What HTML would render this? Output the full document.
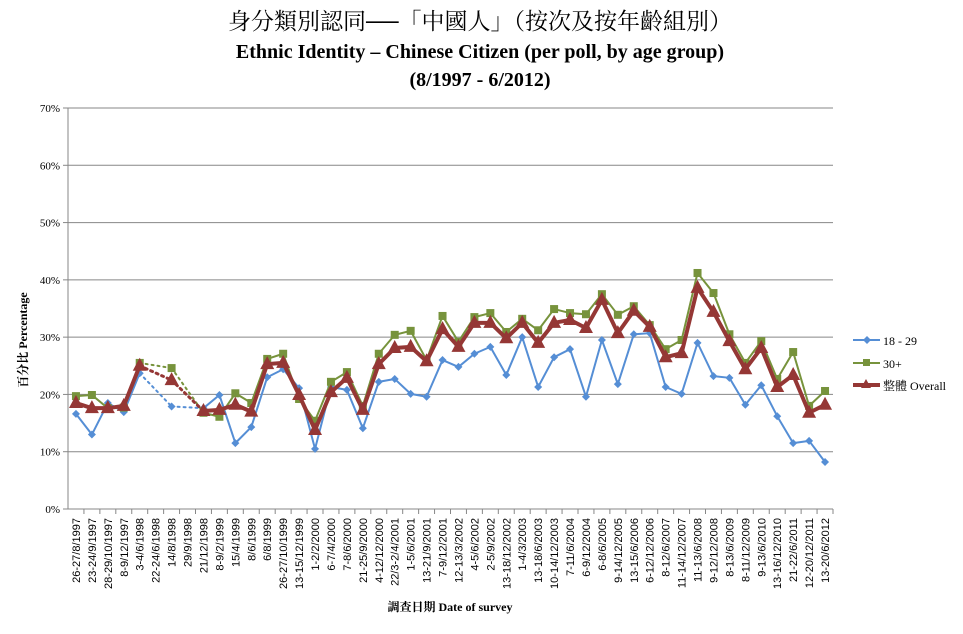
<!DOCTYPE html>
<html><head><meta charset="utf-8"><style>
body{margin:0;background:#fff;width:963px;height:629px;overflow:hidden}
svg text{font-family:"Liberation Serif","Noto Serif CJK SC",serif}
svg text.sans{font-family:"Liberation Sans","Noto Sans CJK SC",sans-serif}
</style></head><body>
<svg id="chart" width="963" height="629" xmlns="http://www.w3.org/2000/svg">
<text x="480" y="29" text-anchor="middle" font-size="23">身分類別認同──「中國人」（按次及按年齡組別）</text>
<text x="480" y="58" text-anchor="middle" font-size="20" font-weight="bold">Ethnic Identity – Chinese Citizen (per poll, by age group)</text>
<text x="480" y="86" text-anchor="middle" font-size="20" font-weight="bold">(8/1997 - 6/2012)</text>
<g id="grid"></g><g id="yticks"></g><g id="xticks"></g><g id="series"></g>
<text transform="translate(27,340) rotate(-90)" text-anchor="middle" font-size="12" font-weight="bold">百分比 Percentage</text>
<text x="450" y="611" text-anchor="middle" font-size="12" font-weight="bold">調查日期 Date of survey</text>
<g>
<g><line x1="853" y1="340" x2="880" y2="340" stroke="#558ed5" stroke-width="2"/><path d="M867 336 L871 340 L867 344 L863 340Z" fill="#558ed5"/><text x="883" y="345" font-size="12">18 - 29</text></g>
<g><line x1="853" y1="363" x2="880" y2="363" stroke="#77933c" stroke-width="2"/><rect x="863" y="359" width="7" height="7" fill="#77933c"/><text x="883" y="368" font-size="12">30+</text></g>
<g><line x1="853" y1="385" x2="880" y2="385" stroke="#953735" stroke-width="4"/><path d="M866 379 L871 388 L861 388Z" fill="#953735"/><text x="883" y="390" font-size="12">整體 Overall</text></g>
</g>
</svg>
<script>
const categories=["26-27/8/1997","23-24/9/1997","28-29/10/1997","8-9/12/1997","3-4/6/1998","22-24/6/1998","14/8/1998","29/9/1998","21/12/1998","8-9/2/1999","15/4/1999","8/6/1999","6/8/1999","26-27/10/1999","13-15/12/1999","1-2/2/2000","6-7/4/2000","7-8/6/2000","21-25/9/2000","4-12/12/2000","22/3-2/4/2001","1-5/6/2001","13-21/9/2001","7-9/12/2001","12-13/3/2002","4-5/6/2002","2-5/9/2002","13-18/12/2002","1-4/3/2003","13-18/6/2003","10-14/12/2003","7-11/6/2004","6-9/12/2004","6-8/6/2005","9-14/12/2005","13-15/6/2006","6-12/12/2006","8-12/6/2007","11-14/12/2007","11-13/6/2008","9-12/12/2008","8-13/6/2009","8-11/12/2009","9-13/6/2010","13-16/12/2010","21-22/6/2011","12-20/12/2011","13-20/6/2012"];
const age1829=[16.6,13.0,18.5,16.9,23.7,null,17.9,null,17.6,19.9,11.5,14.3,23.0,24.4,21.1,10.5,21.3,20.8,14.1,22.2,22.7,20.1,19.6,26.0,24.8,27.1,28.3,23.4,30.0,21.3,26.5,27.9,19.6,29.5,21.8,30.5,30.7,21.3,20.1,29.0,23.2,22.9,18.2,21.6,16.2,11.5,11.9,8.2];
const age30plus=[19.7,19.9,17.6,17.7,25.5,null,24.6,null,16.8,16.1,20.2,18.5,26.2,27.1,19.2,15.4,22.2,23.9,18.0,27.1,30.4,31.1,26.0,33.7,29.2,33.5,34.2,30.9,33.2,31.2,34.9,34.2,34.0,37.5,33.9,35.4,32.1,27.9,29.5,41.2,37.7,30.5,25.5,29.3,22.7,27.4,18.0,20.6];
const overall=[18.5,17.6,17.6,18.0,25.0,null,22.5,null,17.1,17.3,18.2,17.0,25.3,25.5,19.9,13.8,20.4,22.9,17.3,25.3,28.1,28.3,25.8,31.4,28.3,32.5,32.5,29.8,32.5,29.0,32.5,33.0,31.6,36.5,30.7,34.6,31.8,26.5,27.2,38.6,34.4,29.3,24.4,28.1,21.3,23.4,16.8,18.2];
const yTicks=[0,10,20,30,40,50,60,70];
const NS="http://www.w3.org/2000/svg";
const X0=68,X1=833,Y0=509,Y1=108;
const step=(X1-X0)/categories.length;
const xs=i=>X0+step*(i+0.5);
const ys=v=>Y0-(v/70)*(Y0-Y1);
function mk(t,a,p){const e=document.createElementNS(NS,t);for(const k in a)e.setAttribute(k,a[k]);p.appendChild(e);return e;}
const grid=document.getElementById('grid'),yt=document.getElementById('yticks'),xt=document.getElementById('xticks'),sg=document.getElementById('series');
yTicks.forEach(t=>{const y=ys(t);
 const l=mk('line',{x1:X0,x2:X1,y1:y,y2:y,stroke:'#878787','stroke-width':1},grid);
 
 
 mk('line',{x1:X0-5,x2:X0,y1:y,y2:y,stroke:'#878787'},grid);
 const tx=mk('text',{x:X0-8,y:y+4,'text-anchor':'end','font-size':11},yt);tx.textContent=t+'%';
 
 
});
const ax=mk('line',{x1:X0,x2:X0,y1:Y1,y2:Y0,stroke:'#878787'},grid);


categories.forEach((c,i)=>{const x=xs(i);
 mk('line',{x1:X0+step*(i+1),x2:X0+step*(i+1),y1:Y0,y2:Y0+5,stroke:'#878787'},grid);
 const tx=mk('text',{class:'sans',transform:`translate(${x+4},${Y0+9}) rotate(-90)`,'text-anchor':'end','font-size':11},xt);tx.textContent=c;
 
 
});
function series(vals,color,w,marker,name){
 const g=mk('g',{},sg);
 
 
 let prev=-1;
 vals.forEach((v,i)=>{if(v==null)return;
  if(prev>=0){const gap=i-prev>1;
   mk('line',{x1:xs(prev),y1:ys(vals[prev]),x2:xs(i),y2:ys(v),stroke:color,'stroke-width':gap?Math.min(w,3):w,'stroke-dasharray':gap?'2,4':'none','stroke-linecap':'round','stroke-linejoin':'round'},g);}
  prev=i;});
 vals.forEach((v,i)=>{if(v==null)return;const x=xs(i),y=ys(v);let m;
  if(marker==='d')m=mk('path',{d:`M${x} ${y-4}L${x+4} ${y}L${x} ${y+4}L${x-4} ${y}Z`,fill:color},g);
  else if(marker==='s')m=mk('rect',{x:x-4,y:y-4,width:8,height:8,fill:color},g);
  else m=mk('path',{d:`M${x} ${y-8}L${x+7} ${y+5}L${x-7} ${y+5}Z`,fill:color},g);
  
  
 });
}
series(age1829,'#558ed5',2,'d','age-18-29');
series(age30plus,'#77933c',2,'s','age-30plus');
series(overall,'#953735',4,'t','overall');
</script>
</body></html>
